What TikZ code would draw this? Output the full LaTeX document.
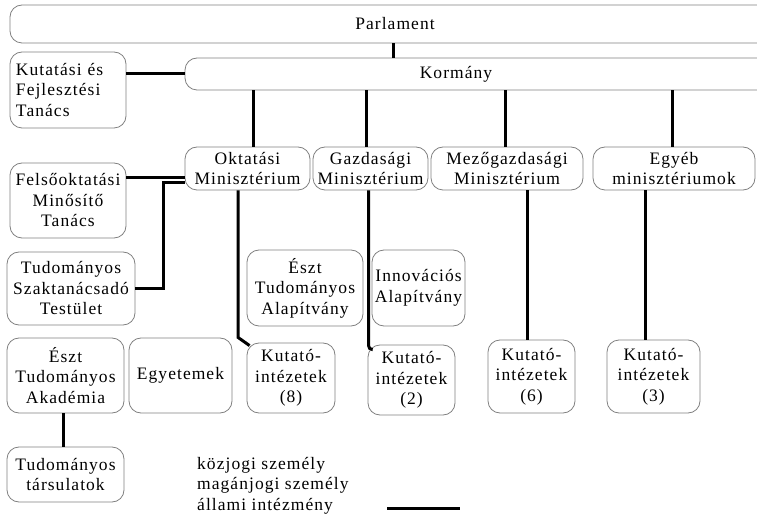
\documentclass[tikz,border=0pt]{standalone}
\usepackage{fontspec}
\setmainfont{Liberation Serif}[LetterSpace=6]
\usetikzlibrary{calc}
\begin{document}
\begin{tikzpicture}[x=1pt,y=-1pt,
  txt/.style={font=\fontsize{17.5}{20.5}\selectfont},
  box/.style={draw=black!50, line width=0.8pt, rounded corners=12pt, align=center, inner sep=1pt, txt},
  every label/.style={txt},
  conn/.style={line width=3pt, black},
]
\useasboundingbox (0,0) rectangle (757,518);
\clip (0,0) rectangle (757,518);

\node[box, minimum width=796pt, minimum height=38pt, label={[xshift=-13pt]center:Parlament}] (parl) at (408,24) {};
\node[box, minimum width=620pt, minimum height=32pt, label={[xshift=-39pt]center:Kormány}] (korm) at (495,74) {};
\node[box, minimum width=116pt, minimum height=76pt, inner xsep=6pt, text width=104pt, align=left] (kft) at (68,90) {Kutatási és\\Fejlesztési\\Tanács};

\node[box, minimum width=125pt, minimum height=43pt] (okt) at (247.5,168.5) {Oktatási\\Minisztérium};
\node[box, minimum width=115pt, minimum height=43pt] (gazd) at (370.5,168.5) {Gazdasági\\Minisztérium};
\node[box, minimum width=152pt, minimum height=43pt] (mezo) at (507,168.5) {Mezőgazdasági\\Minisztérium};
\node[box, minimum width=162pt, minimum height=43pt] (egyeb) at (674,168.5) {Egyéb\\minisztériumok};

\node[box, minimum width=116pt, minimum height=75pt] (fmt) at (68,200.5) {Felsőoktatási\\Minősítő\\Tanács};
\node[box, minimum width=128pt, minimum height=73pt] (tszt) at (71,288.5) {Tudományos\\Szaktanácsadó\\Testület};
\node[box, minimum width=116pt, minimum height=76pt] (eta) at (305,288) {Észt\\Tudományos\\Alapítvány};
\node[box, minimum width=93pt, minimum height=76pt] (inno) at (418.5,288) {Innovációs\\Alapítvány};

\node[box, minimum width=117pt, minimum height=75pt] (akad) at (65.5,375.5) {Észt\\Tudományos\\Akadémia};
\node[box, minimum width=103pt, minimum height=75pt] (egy) at (180.5,375.5) {Egyetemek};
\node[box, minimum width=88pt, minimum height=70pt] (ki8) at (291,378) {Kutató-\\intézetek\\(8)};
\node[box, minimum width=87pt, minimum height=70pt] (ki2) at (411.5,380) {Kutató-\\intézetek\\(2)};
\node[box, minimum width=87pt, minimum height=73pt] (ki6) at (531.5,376.5) {Kutató-\\intézetek\\(6)};
\node[box, minimum width=93pt, minimum height=73pt] (ki3) at (653.5,376.5) {Kutató-\\intézetek\\(3)};
\node[box, minimum width=117pt, minimum height=55pt] (tars) at (65.5,474.5) {Tudományos\\társulatok};

\node[txt, anchor=north west, align=left, inner sep=0pt] (leg) at (197,457) {közjogi személy\\magánjogi személy\\állami intézmény};

% tap points
\coordinate (tP) at ([xshift=-15pt]parl.south);
\coordinate (tO) at ([xshift=5.5pt]okt.north);
\coordinate (tG) at ([xshift=-4.5pt]gazd.north);
\coordinate (tM) at ([xshift=-2pt]mezo.north);
\coordinate (tE) at ([xshift=-2pt]egyeb.north);
\coordinate (bO) at ([xshift=-9.5pt]okt.south);
\coordinate (bG) at ([xshift=-2pt]gazd.south);
\coordinate (bM) at ([xshift=20pt]mezo.south);
\coordinate (bE) at ([xshift=-29pt]egyeb.south);
\coordinate (bA) at ([xshift=-2.5pt]akad.south);
\coordinate (wO1) at ([yshift=-9.5pt]okt.west);
\coordinate (wO2) at ([yshift=-14.5pt]okt.west);
\coordinate (lg1) at (387,508);
\coordinate (lg2) at (460,508);

\draw[conn] (tP) -- (tP |- korm.north);
\draw[conn] (korm.west) -- (korm.west -| kft.east);
\draw[conn] (tO) -- (tO |- korm.south);
\draw[conn] (tG) -- (tG |- korm.south);
\draw[conn] (tM) -- (tM |- korm.south);
\draw[conn] (tE) -- (tE |- korm.south);

\draw[conn] (wO1) -- (wO1 -| fmt.east);
\draw[conn] (wO2) -| ($(tszt.east)+(28,0)$) -- (tszt.east);

\draw[conn] (bO) -- ++(0,147) -- ($(ki8.north west)+(3,3)$);
\draw[conn, rounded corners=4pt] (bG) -- ($(bG |- ki2.north)+(0,5)$) -- ($(ki2.north west)+(5,5)$);
\draw[conn] (bM) -- (bM |- ki6.north);
\draw[conn] (bE) -- (bE |- ki3.north);
\draw[conn] (bA) -- (bA |- tars.north);

\draw[conn] (lg1) -- (lg2);
\end{tikzpicture}
\end{document}
